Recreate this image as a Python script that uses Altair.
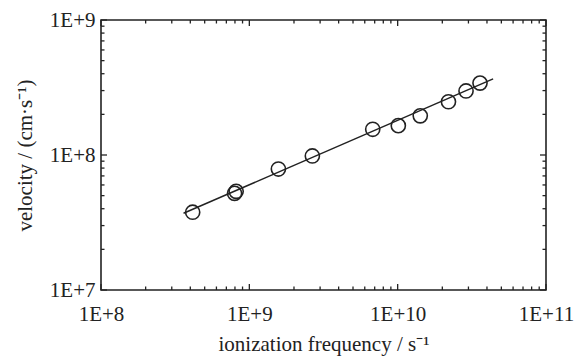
import altair as alt
import pandas as pd

# Data
freq = [4.15e8, 7.95e8, 8.15e8, 1.57e9, 2.66e9, 6.79e9, 1.01e10, 1.42e10, 2.20e10, 2.89e10, 3.59e10]
vel = [3.77e7, 5.20e7, 5.38e7, 7.87e7, 9.84e7, 1.55e8, 1.65e8, 1.95e8, 2.48e8, 2.98e8, 3.41e8]
fit_freq = [3.6e8, 4.4e10]
fit_vel = [3.70e7, 3.66e8]

x_major = [1e8, 1e9, 1e10, 1e11]
y_major = [1e7, 1e8, 1e9]
x_minor = [k * 10.0 ** e for e in (8, 9, 10) for k in range(2, 10)]
y_minor = [k * 10.0 ** e for e in (7, 8) for k in range(2, 10)]

W, H = 445, 270
INK = "#222222"
FONT = "Liberation Serif"

xs = alt.Scale(type="log", domain=[1e8, 1e11], nice=False)
ys = alt.Scale(type="log", domain=[1e7, 1e9], nice=False)

pts = pd.DataFrame({"f": freq, "v": vel})
fit = pd.DataFrame({"f": fit_freq, "v": fit_vel})

label_expr = "'1E+' + round(log(datum.value) / LN10)"

x_axis = alt.Axis(
    values=x_major, labelExpr=label_expr, title="ionization frequency / s⁻¹",
    ticks=False, domain=False, grid=False, labelFlush=False, labelOverlap=False,
    labelPadding=13, titlePadding=9)
y_axis = alt.Axis(
    values=y_major, labelExpr=label_expr, title="velocity / (cm·s⁻¹)",
    ticks=False, domain=False, grid=False, labelFlush=False, labelOverlap=False,
    labelPadding=6, titlePadding=14)

points = alt.Chart(pts).mark_point(
    shape="circle", filled=False, size=200, strokeWidth=1.6, color=INK, opacity=1
).encode(
    x=alt.X("f:Q", scale=xs, axis=x_axis),
    y=alt.Y("v:Q", scale=ys, axis=y_axis),
)

line = alt.Chart(fit).mark_line(color=INK, strokeWidth=1.5).encode(
    x=alt.X("f:Q", scale=xs, axis=x_axis),
    y=alt.Y("v:Q", scale=ys, axis=y_axis),
)


def xticks(vals, length, top):
    d = pd.DataFrame({"t": vals})
    if top:
        yy, yy2 = alt.value(0), alt.value(length)
    else:
        yy, yy2 = alt.value(H), alt.value(H - length)
    return alt.Chart(d).mark_rule(color=INK, strokeWidth=1.3).encode(
        x=alt.X("t:Q", scale=xs, axis=x_axis), y=yy, y2=yy2)


def yticks(vals, length, right):
    d = pd.DataFrame({"t": vals})
    if right:
        xx, xx2 = alt.value(W), alt.value(W - length)
    else:
        xx, xx2 = alt.value(0), alt.value(length)
    return alt.Chart(d).mark_rule(color=INK, strokeWidth=1.3).encode(
        y=alt.Y("t:Q", scale=ys, axis=y_axis), x=xx, x2=xx2)


tick_layers = [
    xticks(x_major, 6, False), xticks(x_major, 6, True),
    xticks(x_minor, 3.5, False), xticks(x_minor, 3.5, True),
    yticks(y_major, 6, False), yticks(y_major, 6, True),
    yticks(y_minor, 3.5, False), yticks(y_minor, 3.5, True),
]

chart = alt.layer(points, line, *tick_layers).properties(
    width=W, height=H,
    autosize=alt.AutoSizeParams(type="none"),
    padding={"left": 101, "top": 20, "right": 32, "bottom": 66},
    background="white",
).configure_view(
    stroke=INK, strokeWidth=1.6
).configure_axis(
    labelFont=FONT, titleFont=FONT, labelFontSize=21, titleFontSize=21,
    labelColor=INK, titleColor=INK, titleFontWeight="normal",
)

chart.save("out.html", embed_options={"renderer": "svg", "actions": False})
